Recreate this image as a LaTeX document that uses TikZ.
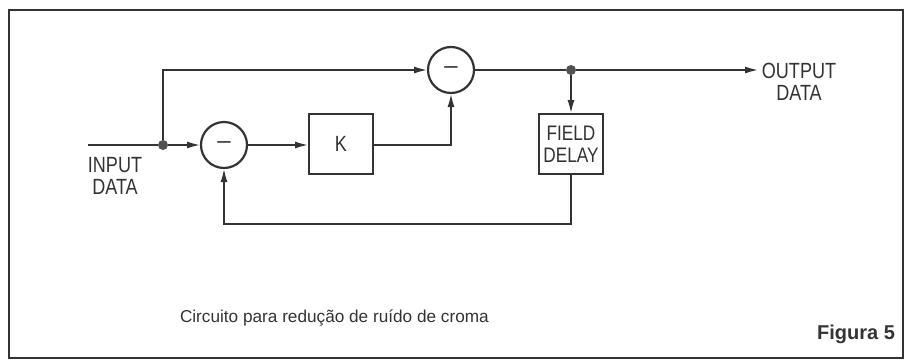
\documentclass[tikz,border=0pt]{standalone}
\usepackage{fontspec}
\setmainfont{Liberation Sans}
\newfontfamily\cond[FakeStretch=0.82]{Liberation Sans}
\usetikzlibrary{arrows.meta}
\definecolor{ink}{HTML}{333333}
\begin{document}
\begin{tikzpicture}[x=1pt,y=-1pt,
  line width=2.2pt, draw=ink, text=ink,
  every node/.style={inner sep=0pt, outer sep=0pt},
  lbl/.style={font=\cond\fontsize{22}{22}\selectfont, align=center},
  sumnode/.style={circle, draw, line width=2.2pt, minimum size=46pt, font=\fontsize{24}{24}\selectfont},
  blk/.style={rectangle, draw, line width=2.2pt, minimum width=64pt, minimum height=60pt},
  dot/.style={circle, fill=ink!85, minimum size=10pt},
  arr/.style={-{Latex[length=14pt,width=7pt]}}]
\useasboundingbox (0,0) rectangle (906,362);
\draw[line width=2pt] (9,10) rectangle (903,358);

\node[sumnode] (c1) at (224,145) {--};
\node[blk, lbl] (K) at (341,144) {K};
\node[sumnode] (c2) at (451,70) {--};
\node[blk, lbl, font=\cond\fontsize{21}{22}\selectfont] (FD) at (571,144) {FIELD\\DELAY};
\node[dot] (j1) at (163,145) {};
\node[dot] (j2) at (571,70) {};
\coordinate (in) at (88,145);
\coordinate (out) at (759,70);
\coordinate (fb) at (571,224);

\draw (in) -- (j1);
\draw[arr] (j1) -- (c1.west |- j1);
\draw[arr] (j1) |- (c2);
\draw[arr] (c1) -- (c1 -| K.west);
\draw[arr] (K.east |- c1) -| (c2);
\draw (c2) -- (j2);
\draw[arr] (j2) -- (out);
\draw[arr] (j2) -- (FD);
\draw[arr] (FD) -- (fb) -| (c1);

\node[lbl] (inl) at (115,176) {INPUT\\DATA};
\node[lbl] (outl) at (799,82) {OUTPUT\\DATA};
\node[font=\fontsize{17.2}{17.2}\selectfont, anchor=west] (cap) at (180,318) {Circuito para redução de ruído de croma};
\node[font=\bfseries\fontsize{20}{20}\selectfont, anchor=east] (fig) at (895,334) {Figura 5};
\end{tikzpicture}
\end{document}
